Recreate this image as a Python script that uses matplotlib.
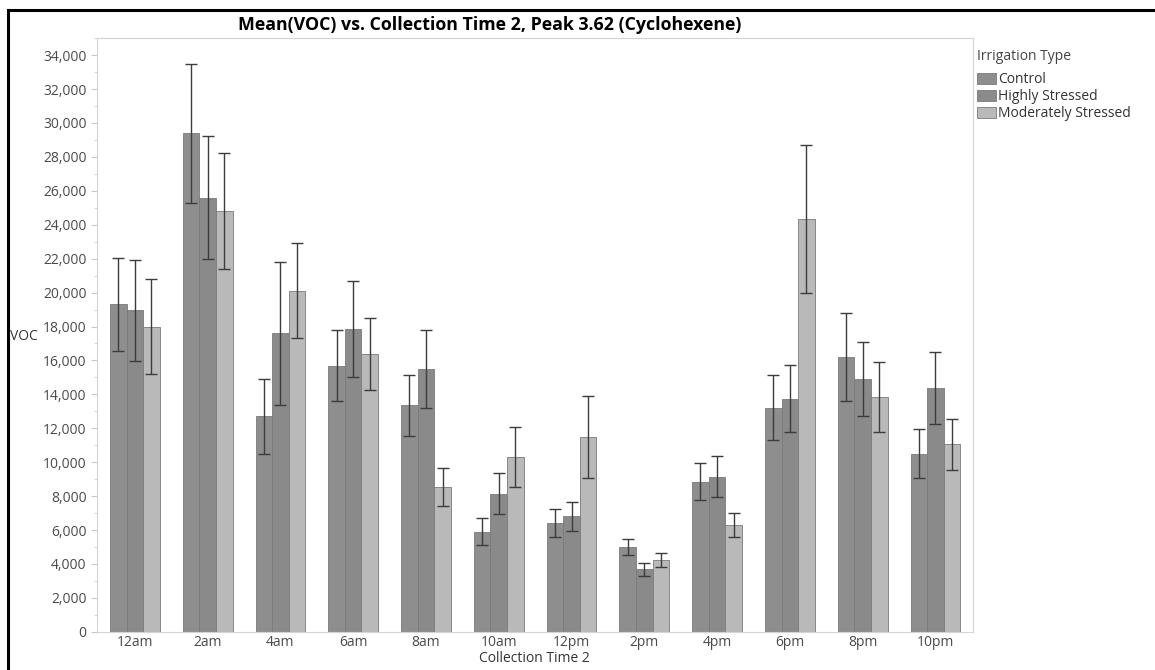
import numpy as np
import matplotlib
matplotlib.use("Agg")
import matplotlib.pyplot as plt
from matplotlib.ticker import MultipleLocator, FuncFormatter

plt.rcParams['font.family'] = ['Open Sans', 'DejaVu Sans']

# collection times on the x axis
times = ["12am", "2am", "4am", "6am", "8am", "10am",
         "12pm", "2pm", "4pm", "6pm", "8pm", "10pm"]
groups = ["Control", "Highly Stressed", "Moderately Stressed"]

# mean VOC per irrigation type
control = [19300, 29400, 12700, 15700, 13350, 5900, 6400, 5000, 8850, 13200, 16200, 10500]
highly = [18950, 25600, 17600, 17850, 15500, 8150, 6800, 3700, 9150, 13750, 14900, 14350]
moderate = [18000, 24800, 20100, 16400, 8550, 10300, 11500, 4250, 6300, 24350, 13850, 11050]

# error bar half-widths
control_err = [2750, 4100, 2200, 2080, 1800, 790, 820, 460, 1080, 1920, 2620, 1450]
highly_err = [3000, 3640, 4200, 2850, 2300, 1220, 880, 380, 1230, 1960, 2200, 2120]
moderate_err = [2820, 3430, 2800, 2120, 1120, 1780, 2410, 420, 720, 4380, 2060, 1510]

colors = ["#8e8e8e", "#8a8a8a", "#b9b9b9"]

fig = plt.figure(figsize=(11.55, 6.70), dpi=100)
ax = fig.add_axes([0.084, 0.057, 0.758, 0.886])

x = np.arange(len(times))
w = 0.228
series = [(control, control_err), (highly, highly_err), (moderate, moderate_err)]
for i, (vals, errs) in enumerate(series):
    pos = x + (i - 1) * w
    ax.bar(pos, vals, width=w, color=colors[i], edgecolor="#7a7a7a",
           linewidth=0.6, label=groups[i], zorder=2)
    ax.errorbar(pos, vals, yerr=errs, fmt="none", ecolor="#3c3c3c",
                elinewidth=1.0, capsize=4, capthick=1.0, zorder=3)

ax.set_xlim(-0.52, 11.51)
ax.set_ylim(0, 35000)
ax.set_xticks(x)
ax.set_xticklabels(times)
ax.yaxis.set_major_locator(MultipleLocator(2000))
ax.yaxis.set_minor_locator(MultipleLocator(1000))
ax.yaxis.set_major_formatter(FuncFormatter(lambda v, p: f"{int(v):,}"))

ax.tick_params(axis="both", labelsize=10, colors="#c8c8c8", labelcolor="#4a4a4a")
ax.tick_params(axis="y", which="major", length=4)
ax.tick_params(axis="y", which="minor", length=2, colors="#d0d0d0")
ax.tick_params(axis="x", length=0, pad=2)
for s in ax.spines.values():
    s.set_color("#d4d4d4")
    s.set_linewidth(0.8)

ax.set_xlabel("Collection Time 2", fontsize=10, color="#333333", labelpad=1)
fig.text(10 / 1155, 1 - 336 / 670, "VOC", fontsize=10, color="#333333",
         ha="left", va="center")

fig.text(490 / 1155, 1 - 25 / 670,
         "Mean(VOC) vs. Collection Time 2, Peak 3.62 (Cyclohexene)",
         fontsize=12.8, fontweight="bold", ha="center", va="center")

# legend on the right
leg = ax.legend(title="Irrigation Type", loc="upper left",
                bbox_to_anchor=(1.005, 0.982), frameon=False, fontsize=10,
                title_fontsize=10, handlelength=1.4, handleheight=0.9,
                handletextpad=0.1, labelspacing=0.15, borderaxespad=0,
                borderpad=0)
leg._legend_box.align = "left"
leg._legend_box.sep = 6
leg.get_title().set_color("#444444")
for t in leg.get_texts():
    t.set_color("#333333")

# outer frame (left and top only)
fig.add_artist(plt.Line2D([8 / 1155, 8 / 1155], [0, 1 - 10 / 670],
                          color="black", linewidth=2.2))
fig.add_artist(plt.Line2D([8 / 1155, 1], [1 - 10 / 670, 1 - 10 / 670],
                          color="black", linewidth=2.2))

fig.savefig("out.png", dpi=100)
